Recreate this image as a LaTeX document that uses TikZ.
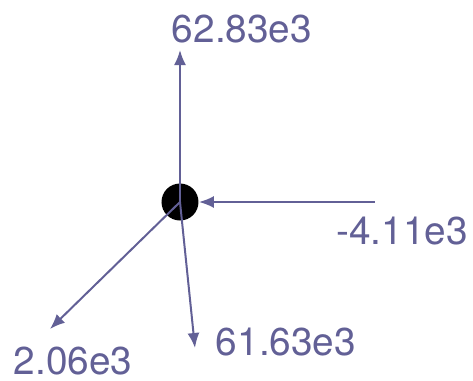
\documentclass[tikz,border=0pt]{standalone}
\usepackage{fontspec}
\setmainfont{TeX Gyre Heros}
\usetikzlibrary{arrows.meta}
\definecolor{forcecol}{RGB}{98,96,150}

\begin{document}
\begin{tikzpicture}[x=0.5pt, y=-0.5pt, every node/.style={font=\fontsize{19.4}{22}\selectfont, text=forcecol}, >={Latex[length=7.5pt, width=6pt]}]
	\useasboundingbox (0,0) rectangle (473,381);
	\node[circle, fill=black, minimum size=18.5pt, inner sep=0pt] (c) at (180,202) {};
	\coordinate (up) at (180,50);
	\coordinate (in) at (375,202);
	\coordinate (ll) at (50,329);
	\coordinate (dn) at (195,348);
	\draw[->, forcecol, line width=1pt] (c.center) -- (up);
	\draw[->, forcecol, line width=1pt] (in) -- (c);
	\draw[->, forcecol, line width=1pt] (c.center) -- (ll);
	\draw[->, forcecol, line width=1pt] (c.center) -- (dn);
	\node (lup) at (242,29) {62.83e3};
	\node (lin) at (402,231) {-4.11e3};
	\node (lll) at (73,361) {2.06e3};
	\node (ldn) at (286,342) {61.63e3};
\end{tikzpicture}
\end{document}
